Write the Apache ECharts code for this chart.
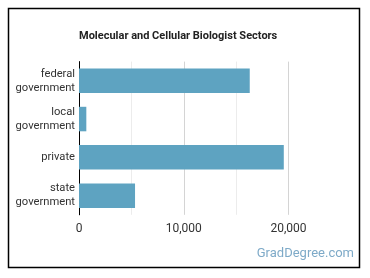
<!DOCTYPE html>
<html>
<head>
<meta charset="utf-8">
<script src="https://cdn.jsdelivr.net/npm/echarts@6/dist/echarts.min.js"></script>
<style>
html, body { margin: 0; padding: 0; background: #fff; }
#chart { width: 370px; height: 278px; }
</style>
</head>
<body>
<div id="chart"></div>
<script>
// sector categories, top to bottom
var categories = ['federal\ngovernment', 'local\ngovernment', 'private', 'state\ngovernment'];
var employment = [16300, 700, 19550, 5350];
var tickValues = [0, 10000, 20000];

var barColor = '#5ea3c1';

var myChart = echarts.init(document.getElementById('chart'));

var option = {
    animation: false,
    textStyle: { fontFamily: 'Roboto' },
    title: {
        text: 'Molecular and Cellular Biologist Sectors',
        left: 74,
        top: 26,
        textStyle: { fontSize: 11, fontWeight: 'bold', color: '#222', fontFamily: 'Roboto' }
    },
    graphic: [
        {
            type: 'rect',
            shape: { x: 8.5, y: 8.5, width: 351, height: 259 },
            style: { fill: 'none', stroke: '#000', lineWidth: 1.5 },
            z: 100
        },
        {
            type: 'text',
            right: 16,
            top: 247,
            style: { text: 'GradDegree.com', fill: '#7eaac8', font: '13px Roboto' }
        }
    ],
    grid: { left: 79, right: 81.5, top: 61.6, bottom: 63.2, containLabel: false },
    xAxis: {
        type: 'value',
        min: tickValues[0],
        max: tickValues[tickValues.length - 1],
        interval: 10000,
        axisLine: { show: false },
        axisTick: { show: false },
        axisLabel: {
            color: '#333',
            fontSize: 12,
            margin: 8,
            formatter: function (v) { return v.toLocaleString('en-US'); }
        },
        splitLine: { lineStyle: { color: '#d4d4d4', width: 1 } },
        minorTick: { show: false, splitNumber: 2 },
        minorSplitLine: { show: true, lineStyle: { color: '#ececec', width: 1 } }
    },
    yAxis: {
        type: 'category',
        inverse: true,
        data: categories,
        axisLine: { show: true, lineStyle: { color: '#000', width: 1 } },
        axisTick: { show: false },
        axisLabel: { color: '#333', fontSize: 11.2, margin: 4, lineHeight: 14, align: 'right' }
    },
    series: [
        {
            type: 'bar',
            data: employment,
            barWidth: '64%',
            itemStyle: { color: barColor },
            z: 1
        }
    ]
};

myChart.setOption(option);
</script>
</body>
</html>
